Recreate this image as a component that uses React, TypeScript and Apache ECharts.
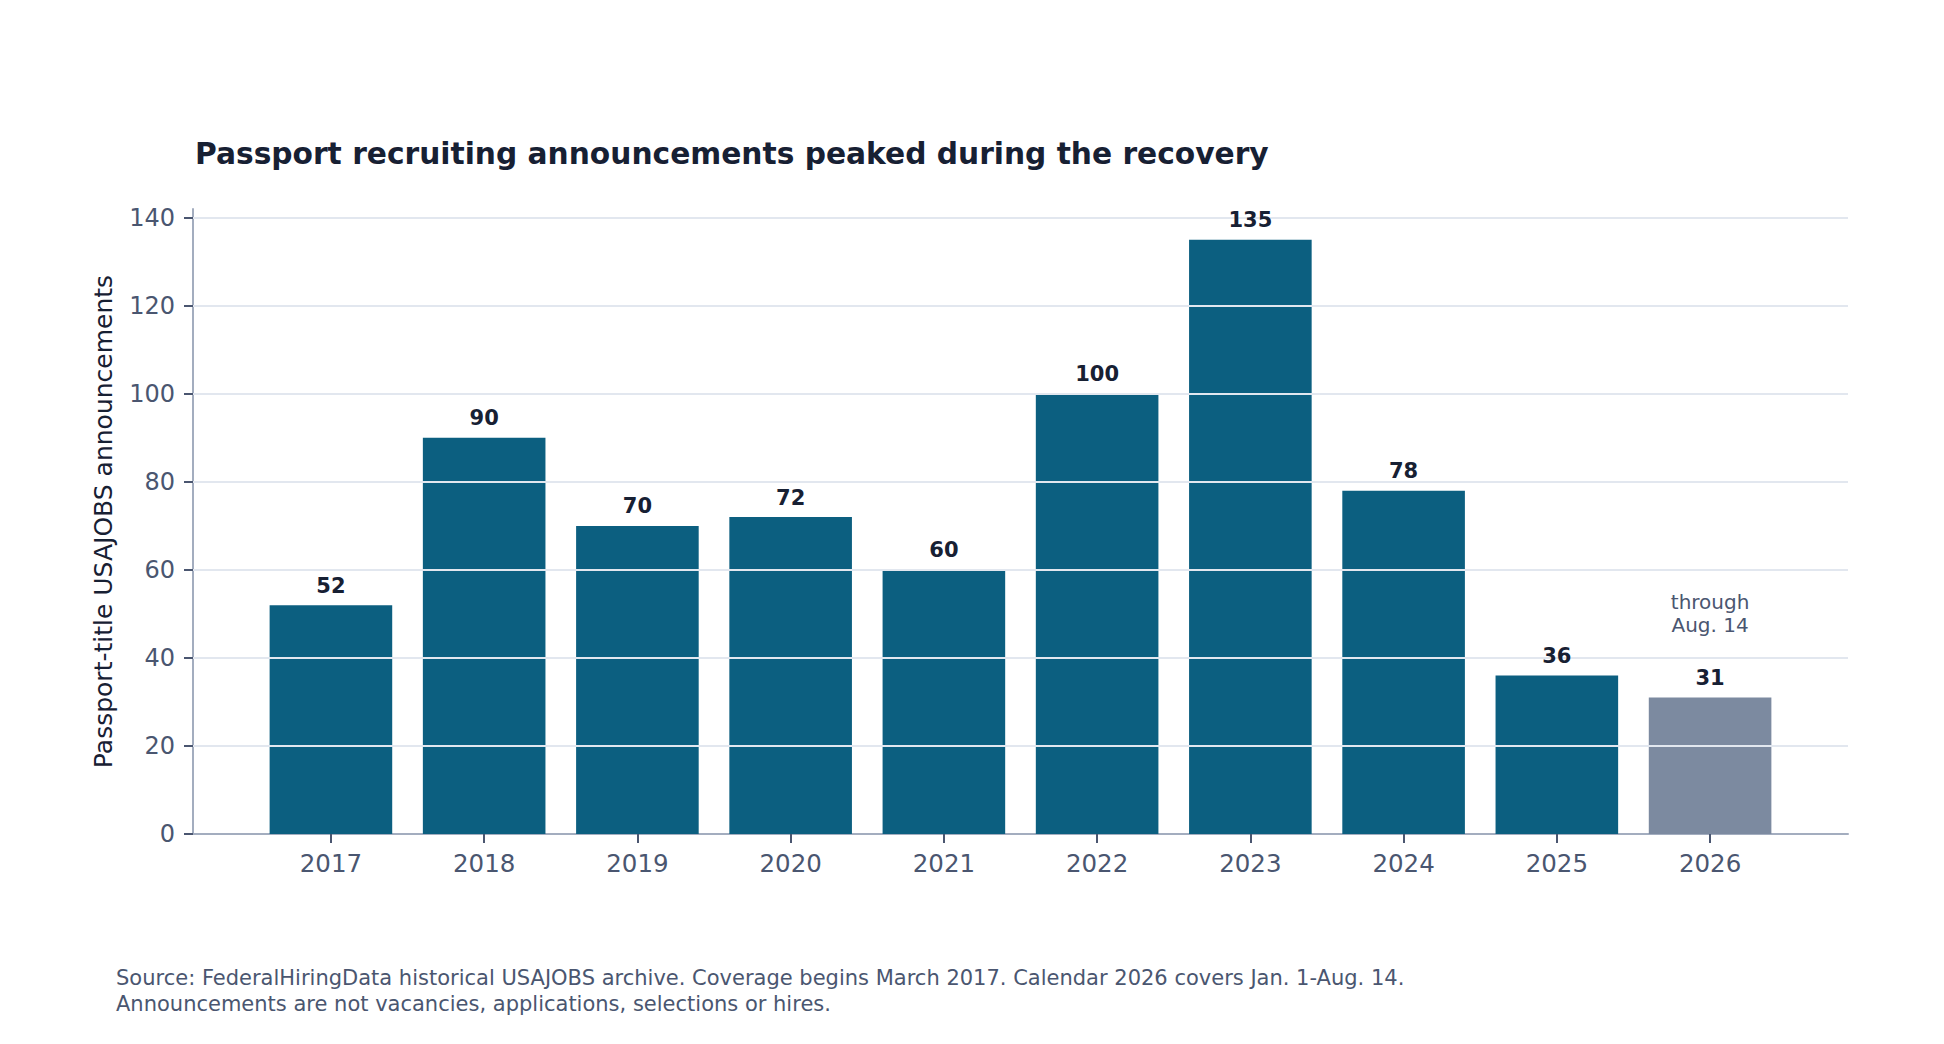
import React, { useEffect, useRef } from "react";
import * as echarts from "echarts";

const title = "Passport recruiting announcements peaked during the recovery";
const yAxisName = "Passport-title USAJOBS announcements";
const years = [2017, 2018, 2019, 2020, 2021, 2022, 2023, 2024, 2025, 2026];
const announcements = [52, 90, 70, 72, 60, 100, 135, 78, 36, 31];
const partialYear = 2026;
const partialNote = "through\nAug. 14";
const yTicks = [0, 20, 40, 60, 80, 100, 120, 140];
const gridTicks = [20, 40, 60, 80, 100, 120, 140];
const footnote = [
  "Source: FederalHiringData historical USAJOBS archive. Coverage begins March 2017. Calendar 2026 covers Jan. 1-Aug. 14.",
  "Announcements are not vacancies, applications, selections or hires.",
];

const FONT = "DejaVu Sans";
const BAR = "#0c5f80";
const BAR_PARTIAL = "#7c8aa0";
const DARK = "#172033";
const MUTED = "#4a5670";
const SPINE = "#a3adbf";
const GRID = "#e2e7ef";

export default function App() {
  const ref = useRef<HTMLDivElement>(null);
  useEffect(() => {
    if (!ref.current) return;
    const chart = echarts.init(ref.current, null, { renderer: "svg" });
    const points = years.map((y, i) => [y, announcements[i]]);
    const data = years.map((y, i) => ({
      value: [y, announcements[i]],
      itemStyle: { color: y === partialYear ? BAR_PARTIAL : BAR },
    }));
    const partialIdx = years.indexOf(partialYear);
    chart.setOption({
      animation: false,
      backgroundColor: "#ffffff",
      textStyle: { fontFamily: FONT },
      title: {
        text: title,
        left: 195,
        top: 138,
        padding: 0,
        textStyle: { fontFamily: FONT, fontSize: 29.7, fontWeight: "bold", color: DARK },
      },
      grid: { left: 193, right: 96, top: 209, bottom: 210, containLabel: false },
      xAxis: {
        type: "value",
        min: 2016.1,
        max: 2026.9,
        splitLine: { show: false },
        axisLine: { show: true, lineStyle: { color: SPINE, width: 2 } },
        axisTick: {
          show: true,
          customValues: years,
          length: 9,
          lineStyle: { color: MUTED, width: 2 },
        },
        axisLabel: {
          customValues: years,
          formatter: (v: number) => String(v),
          fontFamily: FONT,
          fontSize: 24.5,
          color: MUTED,
          margin: 17,
        },
      },
      yAxis: {
        type: "value",
        min: 0,
        max: 142,
        interval: 20,
        name: yAxisName,
        nameLocation: "middle",
        nameGap: 77,
        nameTextStyle: { fontFamily: FONT, fontSize: 25, color: DARK },
        splitLine: { show: false },
        axisLine: { show: true, lineStyle: { color: SPINE, width: 2 } },
        axisTick: {
          show: true,
          customValues: yTicks,
          length: 9,
          lineStyle: { color: MUTED, width: 2 },
        },
        axisLabel: {
          customValues: yTicks,
          formatter: (v: number) => String(v),
          fontFamily: FONT,
          fontSize: 24,
          color: MUTED,
          margin: 18,
        },
      },
      series: [
        {
          type: "bar",
          data,
          barWidth: "80%",
          z: 2,
          markLine: {
            silent: true,
            symbol: "none",
            label: { show: false },
            lineStyle: { color: GRID, width: 2, type: "solid" },
            data: gridTicks.map((t) => ({ yAxis: t })),
            z: 5,
          },
          markPoint: {
            silent: true,
            symbol: "rect",
            symbolSize: 0,
            data: [{ coord: [partialYear, announcements[partialIdx]] }],
            label: {
              show: true,
              position: "top",
              distance: 61,
              formatter: partialNote,
              fontFamily: FONT,
              fontSize: 20,
              lineHeight: 23,
              align: "center",
              color: MUTED,
            },
          },
        },
        {
          type: "scatter",
          data: points,
          symbol: "rect",
          symbolSize: 0,
          silent: true,
          z: 20,
          itemStyle: { opacity: 1, color: DARK },
          label: {
            show: true,
            position: "top",
            distance: 9,
            formatter: (p: any) => String(p.value[1]),
            fontFamily: FONT,
            fontSize: 21,
            fontWeight: "bold",
            color: DARK,
          },
        },
      ],
      graphic: [
        {
          type: "text",
          left: 116,
          top: 965,
          z: 30,
          style: {
            text: footnote.join("\n"),
            font: `21px '${FONT}'`,
            fill: MUTED,
            lineHeight: 26,
          },
        },
      ],
    });
    return () => chart.dispose();
  }, []);
  return (
    <div
      ref={ref}
      style={{ position: "fixed", left: 0, top: 0, width: 1944, height: 1044, background: "#fff" }}
    />
  );
}
